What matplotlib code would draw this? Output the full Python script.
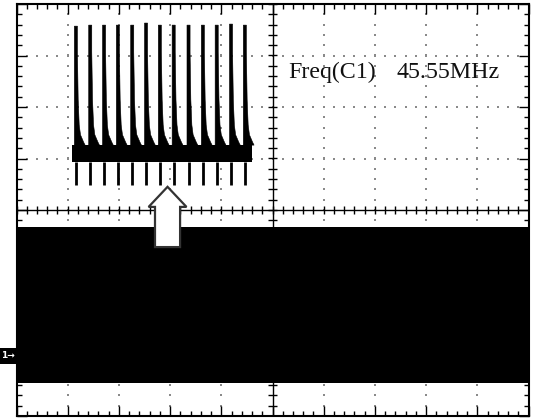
import numpy as np
import matplotlib
matplotlib.use('Agg')
import matplotlib.pyplot as plt
from matplotlib.patches import FancyArrow, Polygon, Rectangle
from matplotlib.ticker import MultipleLocator

# 上方放大的脈衝串（單位：格）
pulse_x = [-3.84, -3.56, -3.29, -3.02, -2.74, -2.47, -2.20, -1.93, -1.64, -1.36, -1.09, -0.81, -0.54]
pulse_peak = [3.57, 3.59, 3.59, 3.59, 3.59, 3.63, 3.59, 3.59, 3.59, 3.59, 3.59, 3.61, 3.59]
pulse_trough = 0.49
base_top, base_bottom = 1.26, 0.93
base_start, base_end = -3.92, -0.40
# 脈衝右側的衰減尾巴 (dx, y)
tail_dx = [0.03, 0.045, 0.065, 0.09, 0.15, 0.18]
tail_y = [3.07, 2.14, 1.65, 1.46, 1.32, 1.26]

# 下方 CH1 的訊號帶
band_top, band_bottom = -0.33, -3.36

# 量測文字
meas_name = 'Freq(C1)'
meas_value = '45.55MHz'

fig = plt.figure(figsize=(5.33, 4.18), dpi=100)
ax = fig.add_axes([16.5 / 533, 2 / 418, 512 / 533, 412 / 418])
ax.set_xlim(-5, 5)
ax.set_ylim(-4, 4)

# 格點（虛線網格）
gx = np.arange(-5, 5.001, 0.2)
gy = np.arange(-4, 4.001, 0.2)
for yi in [-3, -2, -1, 1, 2, 3]:
    ax.scatter(gx, np.full_like(gx, yi), s=1.2, c='#8a8a8a', marker='s', linewidths=0, zorder=1)
for xi in [-4, -3, -2, -1, 1, 2, 3, 4]:
    ax.scatter(np.full_like(gy, xi), gy, s=1.2, c='#8a8a8a', marker='s', linewidths=0, zorder=1)

# 中心十字軸與刻度
ax.axhline(0, color='black', lw=1.0, zorder=2)
ax.axvline(0, color='black', lw=1.0, zorder=2)
ax.vlines(gx, -0.08, 0.08, color='black', lw=1.0, zorder=2)
ax.hlines(gy, -0.09, 0.09, color='black', lw=1.0, zorder=2)

# CH1 訊號帶
ax.fill_between([-5, 5], band_bottom, band_top, color='black', lw=0, zorder=3)

# 脈衝串基線
ax.fill_between([base_start, base_end], base_bottom, base_top, color='black', lw=0, zorder=3)
for x0, pk in zip(pulse_x, pulse_peak):
    verts = [(x0 - 0.03, base_top), (x0 - 0.03, pk), (x0 + 0.03, pk)]
    verts += [(x0 + dx, yy) for dx, yy in zip(tail_dx, tail_y)]
    ax.add_patch(Polygon(verts, closed=True, fc='black', ec='black', lw=0.4, zorder=3))
ax.vlines(pulse_x, pulse_trough, base_bottom, color='black', lw=2.0, zorder=3)

# 箭頭
arrow = FancyArrow(-2.05, -0.72, 0, 0.45 + 0.72, width=0.49, head_width=0.74,
                   head_length=0.39, length_includes_head=True,
                   fc='white', ec='#333333', lw=1.6, zorder=4)
ax.add_patch(arrow)

ax.text(0.30, 2.57, meas_name, family='Liberation Serif', fontsize=17.2,
        va='baseline', ha='left', color='#111111', zorder=5)
ax.text(2.43, 2.57, meas_value, family='Liberation Serif', fontsize=17.2,
        va='baseline', ha='left', color='#111111', zorder=5)

# 邊框刻度
ax.xaxis.set_major_locator(MultipleLocator(1))
ax.yaxis.set_major_locator(MultipleLocator(1))
ax.xaxis.set_minor_locator(MultipleLocator(0.2))
ax.yaxis.set_minor_locator(MultipleLocator(0.2))
ax.tick_params(which='both', direction='in', top=True, right=True,
               labelleft=False, labelbottom=False, color='black')
ax.tick_params(which='major', length=7, width=1.0)
ax.tick_params(which='minor', length=3.3, width=1.0)
for sp in ax.spines.values():
    sp.set_linewidth(1.5)

# 通道 1 標記
fig.patches.append(Rectangle((0, (418 - 364) / 418), 16 / 533, 16 / 418,
                             transform=fig.transFigure, fc='black', ec='none'))
fig.text(8 / 533, (418 - 356) / 418, '1\u2192', color='white', fontsize=6.5,
         ha='center', va='center', fontweight='bold')

fig.savefig('out.png', dpi=100)
